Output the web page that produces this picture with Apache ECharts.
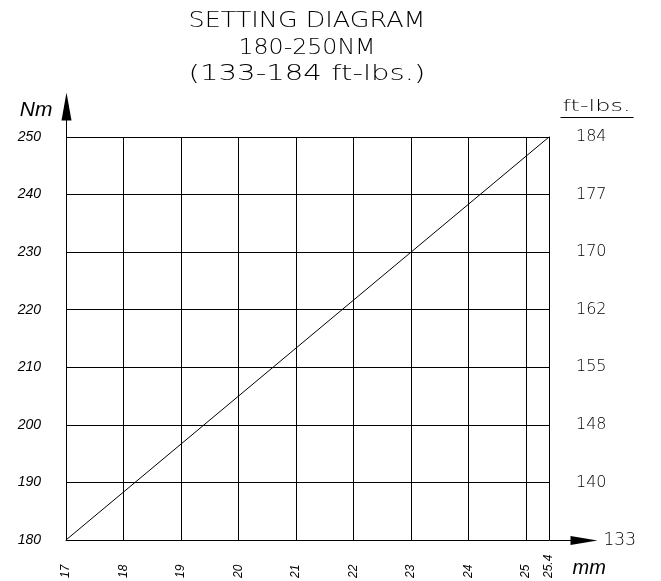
<!DOCTYPE html>
<html>
<head>
<meta charset="utf-8">
<script src="https://cdn.jsdelivr.net/npm/echarts@6/dist/echarts.min.js"></script>
<style>
  html, body { margin: 0; padding: 0; background: #fff; }
  #chart { width: 661px; height: 581px; }
</style>
</head>
<body>
<div id="chart"></div>
<script>
// Setting diagram: torque (Nm / ft-lbs.) against setting length (mm)
const titleLines = ['SETTING DIAGRAM', '180-250NM', '(133-184 ft-lbs.)'];
const mmMin = 17;
const mmMax = 25.4;
const nmTicks = [180, 190, 200, 210, 220, 230, 240, 250];
const ftLbsLabels = ['133', '140', '148', '155', '162', '170', '177', '184'];
const settingMm = [17, 25.4];
const settingNm = [180, 250];

const INK = '#000';
const cadFamily = '"DejaVu Sans", sans-serif';
const cadWeight = 200;
const italicFamily = '"Liberation Sans", Arial, sans-serif';

// Horizontal stretch that brings a text run to a given width (drafting lettering is wide)
const measureCtx = document.createElement('canvas').getContext('2d');
function stretchTo(text, fontSize, width) {
  measureCtx.font = cadWeight + ' ' + fontSize + 'px ' + cadFamily;
  return width / measureCtx.measureText(text).width;
}

const chart = echarts.init(document.getElementById('chart'), null, { renderer: 'canvas' });

chart.setOption({
  backgroundColor: '#fff',
  animation: false,
  grid: { left: 66, right: 112, top: 137, bottom: 41, containLabel: false, outerBoundsMode: 'none' },
  xAxis: {
    type: 'value',
    min: mmMin,
    max: mmMax,
    interval: 1,
    axisLine: { show: true, lineStyle: { color: INK, width: 1 } },
    axisTick: { show: false },
    splitLine: { show: true, lineStyle: { color: INK, width: 1 } },
    axisLabel: {
      show: true,
      rotate: 90,
      align: 'left',
      margin: 38,
      showMinLabel: true,
      showMaxLabel: true,
      color: INK,
      fontSize: 12,
      fontStyle: 'italic',
      fontFamily: italicFamily
    }
  },
  yAxis: [
    {
      type: 'value',
      position: 'left',
      min: nmTicks[0],
      max: nmTicks[nmTicks.length - 1],
      interval: 10,
      axisLine: { show: true, lineStyle: { color: INK, width: 1 } },
      axisTick: { show: false },
      splitLine: { show: true, lineStyle: { color: INK, width: 1 } },
      axisLabel: {
        margin: 25,
        color: INK,
        fontSize: 14,
        fontStyle: 'italic',
        fontFamily: italicFamily
      }
    },
    {
      type: 'value',
      position: 'right',
      min: nmTicks[0],
      max: nmTicks[nmTicks.length - 1],
      interval: 10,
      axisLine: { show: true, lineStyle: { color: INK, width: 1 } },
      axisTick: { show: false },
      splitLine: { show: false },
      axisLabel: {
        margin: 27,
        showMinLabel: false,
        color: INK,
        fontSize: 16,
        fontWeight: cadWeight,
        fontFamily: cadFamily,
        formatter: function (v) {
          const i = nmTicks.indexOf(v);
          return i >= 0 ? ftLbsLabels[i] : '';
        }
      }
    }
  ],
  series: [
    {
      type: 'line',
      yAxisIndex: 0,
      data: settingMm.map((m, i) => [m, settingNm[i]]),
      showSymbol: false,
      silent: true,
      lineStyle: { color: INK, width: 1 }
    }
  ]
});

// Axis arrows, unit captions and title, placed from the grid's pixel corners
const origin = chart.convertToPixel({ gridIndex: 0 }, [mmMin, nmTicks[0]]);
const corner = chart.convertToPixel({ gridIndex: 0 }, [mmMax, nmTicks[nmTicks.length - 1]]);
const x0 = Math.round(origin[0]) + 0.5;
const y0 = Math.round(origin[1]) + 0.5;
const x1 = Math.round(corner[0]) + 0.5;
const y1 = Math.round(corner[1]) + 0.5;

const titleSize = 22;
const titleWidths = [237, 137, 237];
const titleRows = [21.5, 48, 74.5];
const titleX = 307;

const titleGraphics = titleLines.map((line, i) => ({
  type: 'text',
  x: titleX,
  y: titleRows[i],
  scaleX: stretchTo(line, titleSize, titleWidths[i]),
  style: {
    text: line, fill: INK, fontSize: titleSize, fontWeight: cadWeight, fontFamily: cadFamily,
    align: 'center', verticalAlign: 'middle'
  }
}));

const ftUnit = 'ft-lbs.';

chart.setOption({
  graphic: [
    // vertical axis extension and arrow head
    { type: 'line', shape: { x1: x0, y1: y1, x2: x0, y2: y1 - 20 }, style: { stroke: INK, lineWidth: 1 } },
    { type: 'polygon', shape: { points: [[x0, y1 - 45], [x0 - 5, y1 - 17], [x0 + 5, y1 - 17]] }, style: { fill: INK } },
    // horizontal axis extension and arrow head
    { type: 'line', shape: { x1: x1, y1: y0, x2: x1 + 22, y2: y0 }, style: { stroke: INK, lineWidth: 1 } },
    { type: 'polygon', shape: { points: [[x1 + 48, y0], [x1 + 21, y0 - 4.5], [x1 + 21, y0 + 4.5]] }, style: { fill: INK } },
    // ft-lbs. value at the origin
    { type: 'text', x: x1 + 54, y: y0, style: { text: ftLbsLabels[0], fill: INK, fontSize: 17, fontWeight: cadWeight, fontFamily: cadFamily, align: 'left', verticalAlign: 'middle' } },
    // unit captions
    { type: 'text', x: x0 - 14, y: y1 - 27, style: { text: 'Nm', fill: INK, fontSize: 21, fontStyle: 'italic', fontFamily: italicFamily, align: 'right', verticalAlign: 'middle' } },
    {
      type: 'text', x: x1 + 13, y: y1 - 31,
      scaleX: stretchTo(ftUnit, 16, 68),
      style: { text: ftUnit, fill: INK, fontSize: 16, fontWeight: cadWeight, fontFamily: cadFamily, align: 'left', verticalAlign: 'middle' }
    },
    { type: 'line', shape: { x1: x1 + 11, y1: y1 - 20, x2: x1 + 84, y2: y1 - 20 }, style: { stroke: INK, lineWidth: 1 } },
    { type: 'text', x: x1 + 23, y: y0 + 28, style: { text: 'mm', fill: INK, fontSize: 20, fontStyle: 'italic', fontFamily: italicFamily, align: 'left', verticalAlign: 'middle' } }
  ].concat(titleGraphics)
});
</script>
</body>
</html>
